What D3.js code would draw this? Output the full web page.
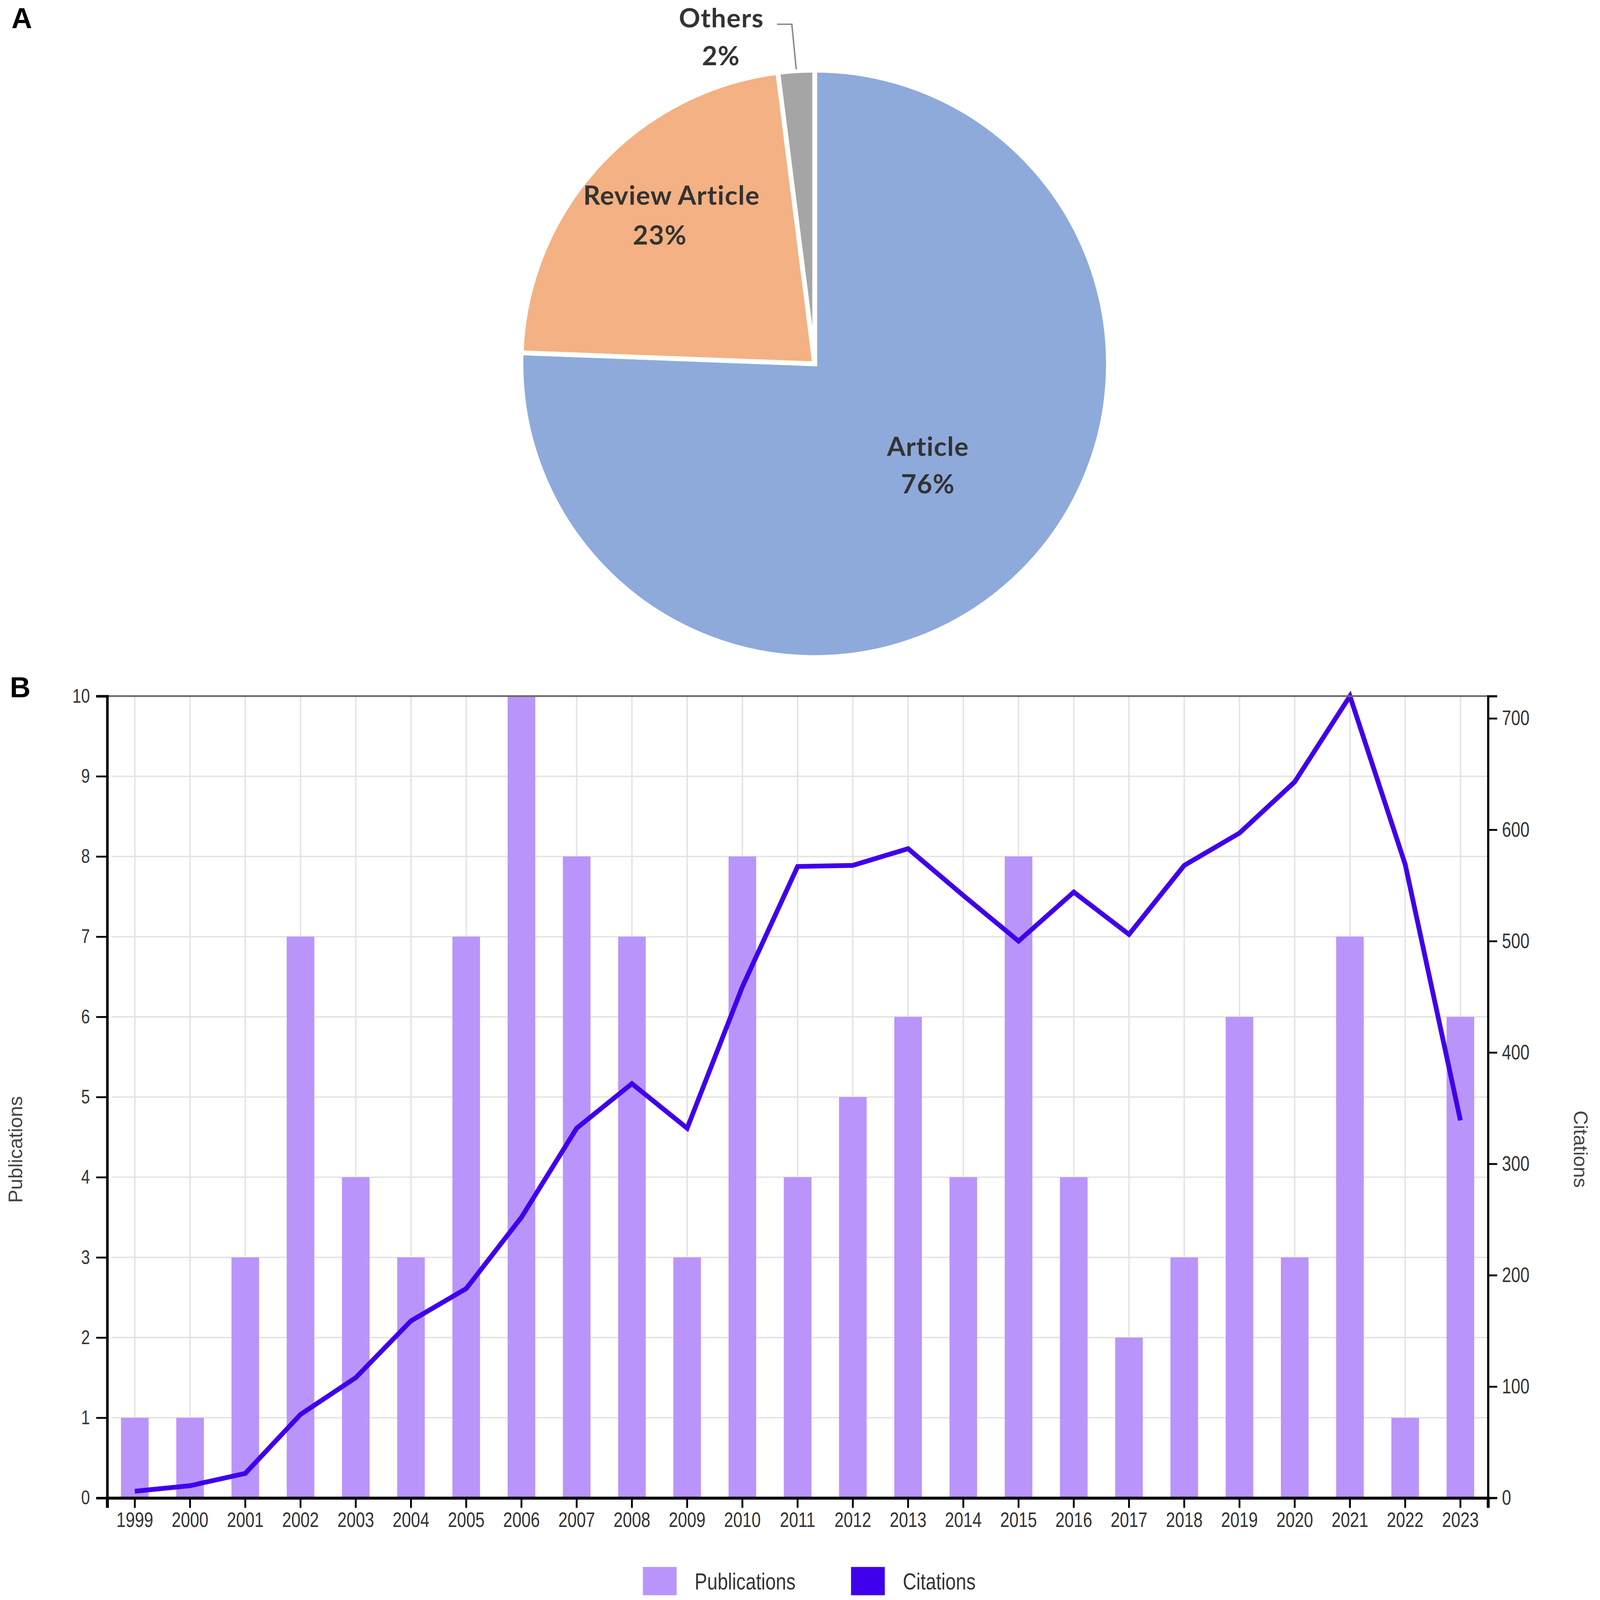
<!DOCTYPE html>
<html>
<head>
<meta charset="utf-8">
<script src="https://cdn.jsdelivr.net/npm/d3@7"></script>
<style>
  html, body { margin: 0; padding: 0; background: #fff; overflow: hidden; }
  svg { display: block; width: 100vw; height: 100vh; }
</style>
</head>
<body>
<div id="chart"></div>
<script>
// panel A: document types (shares)
const docTypes = ['Article', 'Review Article', 'Others']
const docShares = [75.6, 22.4, 2.0]
const docLabels = ['76%', '23%', '2%']

// panel B: publications and citations per year
const years = ['1999', '2000', '2001', '2002', '2003', '2004', '2005', '2006', '2007', '2008',
  '2009', '2010', '2011', '2012', '2013', '2014', '2015', '2016', '2017', '2018',
  '2019', '2020', '2021', '2022', '2023']
const publications = [1, 1, 3, 7, 4, 3, 7, 10, 8, 7, 3, 8, 4, 5, 6, 4, 8, 4, 2, 3, 6, 3, 7, 1, 6]
const citations = [6, 11, 22, 75, 108, 159, 188, 252, 332, 372, 332, 459, 567, 568, 583, 541,
  500, 544, 506, 568, 597, 643, 720, 569, 339]
const pubTicks = [0, 1, 2, 3, 4, 5, 6, 7, 8, 9, 10]
const citeTicks = [0, 100, 200, 300, 400, 500, 600, 700]
const seriesNames = ['Publications', 'Citations']

const width = 4328
const height = 4358
const sans = '"Liberation Sans", Arial, sans-serif'
const pieFont = 'Lato, "Open Sans", sans-serif'
const pieColors = ['#8eaadb', '#f4b183', '#a5a5a5']
const barColor = '#b995fb'
const lineColor = '#4000ec'
const textColor = '#333'

// drawn in a 4328x4358 coordinate space, scaled to the window
const svg = d3.select('#chart')
  .append('svg')
  .attr('viewBox', '0 0 ' + width + ' ' + height)
  .attr('preserveAspectRatio', 'xMidYMid meet')

svg.append('rect').attr('width', width).attr('height', height).attr('fill', '#fff')

// panel letters
svg.append('text').attr('x', 16).attr('y', 77).text('A')
  .style('font-family', sans).style('font-weight', 'bold').style('font-size', '78px').attr('fill', '#000')
svg.append('text').attr('x', 12).attr('y', 1899).text('B')
  .style('font-family', sans).style('font-weight', 'bold').style('font-size', '78px').attr('fill', '#000')

// ---------- pie ----------
const cx = 2204
const cy = 991
const radius = 800

const pie = d3.pie().sort(null).value(d => d)
const arcs = pie(docShares)
const arc = d3.arc().innerRadius(0).outerRadius(radius)

const pieG = svg.append('g').attr('transform', 'translate(' + cx + ',' + cy + ')')

pieG.selectAll('path')
  .data(arcs)
  .enter()
  .append('path')
  .attr('d', arc)
  .attr('fill', (d, i) => pieColors[i])
  .attr('stroke', '#fff')
  .attr('stroke-width', 13)
  .attr('stroke-linejoin', 'miter')

function pieText (sel) {
  return sel
    .attr('text-anchor', 'middle')
    .style('font-family', pieFont)
    .style('font-weight', 'bold')
    .style('font-size', '72px')
    .style('letter-spacing', '1.5px')
    .attr('fill', textColor)
}

// inside labels for the two large slices: anchor on a centroid, then nudge each line
const labelRadius = [0.52, 0.72]
const labelNudge = [
  { dx1: 20, dy1: -49, dx2: 20, dy2: 53 },
  { dx1: 35, dy1: -44, dx2: 3, dy2: 64 }
]
arcs.slice(0, 2).forEach((d, i) => {
  const r = radius * labelRadius[i]
  const c = d3.arc().innerRadius(r).outerRadius(r).centroid(d)
  const n = labelNudge[i]
  const t = pieText(pieG.append('text'))
  t.append('tspan').attr('x', c[0] + n.dx1).attr('y', c[1] + n.dy1).text(docTypes[i])
  t.append('tspan').attr('x', c[0] + n.dx2).attr('y', c[1] + n.dy2).text(docLabels[i])
})

// outside label with leader line for the small slice
const small = arcs[2]
const edge = d3.arc().innerRadius(radius).outerRadius(radius).centroid(small)
const elbowY = 66 - cy
pieG.append('path')
  .attr('d', 'M' + edge[0] + ',' + (edge[1] - 4) +
    'L' + (edge[0] - 12) + ',' + elbowY +
    'L' + (edge[0] - 52) + ',' + elbowY)
  .attr('fill', 'none')
  .attr('stroke', '#8c8c8c')
  .attr('stroke-width', 4)
const otherText = pieText(pieG.append('text'))
otherText.append('tspan').attr('x', edge[0] - 204).attr('y', elbowY + 8).text(docTypes[2])
otherText.append('tspan').attr('x', edge[0] - 205).attr('y', elbowY + 112).text(docLabels[2])

// ---------- bar + line chart ----------
const plotLeft = 277
const plotRight = 4038
const plotTop = 1896
const plotBottom = 4080

const x = d3.scaleBand()
  .domain(years)
  .range([plotLeft, plotRight])
  .paddingInner(0.5)
  .paddingOuter(0.25)

const yL = d3.scaleLinear().domain([0, 10]).range([plotBottom, plotTop])
const yR = d3.scaleLinear().domain([0, d3.max(citations)]).range([plotBottom, plotTop])

const center = d => x(d) + x.bandwidth() / 2

// grid
svg.append('g')
  .selectAll('line')
  .data(years)
  .enter()
  .append('line')
  .attr('x1', center).attr('x2', center)
  .attr('y1', plotTop).attr('y2', plotBottom)
  .attr('stroke', '#e4e4e4')
  .attr('stroke-width', 4)

svg.append('g')
  .selectAll('line')
  .data(pubTicks.slice(1, -1))
  .enter()
  .append('line')
  .attr('x1', plotLeft + 12).attr('x2', plotRight)
  .attr('y1', d => yL(d)).attr('y2', d => yL(d))
  .attr('stroke', '#e4e4e4')
  .attr('stroke-width', 4)

// bars
svg.append('g')
  .selectAll('rect')
  .data(years)
  .enter()
  .append('rect')
  .attr('x', d => x(d))
  .attr('width', x.bandwidth())
  .attr('y', (d, i) => yL(publications[i]))
  .attr('height', (d, i) => plotBottom - yL(publications[i]))
  .attr('fill', barColor)

// citations line
const line = d3.line()
  .x((d, i) => center(years[i]))
  .y(d => yR(d))

svg.append('path')
  .datum(citations)
  .attr('d', line)
  .attr('fill', 'none')
  .attr('stroke', lineColor)
  .attr('stroke-width', 13)
  .attr('stroke-linejoin', 'miter')

// top frame line
svg.append('line')
  .attr('x1', plotLeft).attr('x2', plotRight)
  .attr('y1', plotTop).attr('y2', plotTop)
  .attr('stroke', '#6a6a6a')
  .attr('stroke-width', 5)

function styleAxis (g, size, domainWidth) {
  g.select('.domain').attr('stroke', '#000').attr('stroke-width', domainWidth)
  g.selectAll('.tick line').attr('stroke', '#000').attr('stroke-width', 5)
  g.selectAll('.tick text')
    .attr('fill', textColor)
    .style('font-family', sans)
    .style('font-size', size + 'px')
    .attr('transform', 'scale(1,1.25)')
}

const axisL = svg.append('g')
  .attr('transform', 'translate(' + plotLeft + ',0)')
  .call(d3.axisLeft(yL).tickValues(pubTicks).tickSize(30).tickPadding(17))
styleAxis(axisL, 43, 7)

const axisR = svg.append('g')
  .attr('transform', 'translate(' + plotRight + ',0)')
  .call(d3.axisRight(yR).tickValues(citeTicks).tickSize(25).tickPadding(13))
styleAxis(axisR, 45, 6)

const axisB = svg.append('g')
  .attr('transform', 'translate(0,' + plotBottom + ')')
  .call(d3.axisBottom(x).tickSize(27).tickPadding(4))
styleAxis(axisB, 45, 8)

// axis titles
svg.append('text')
  .attr('transform', 'translate(27,3131) rotate(-90)')
  .attr('text-anchor', 'middle')
  .attr('dominant-baseline', 'central')
  .style('font-family', sans)
  .style('font-size', '54px')
  .attr('fill', '#444')
  .text(seriesNames[0])

svg.append('text')
  .attr('transform', 'translate(4290,3130) rotate(90)')
  .attr('text-anchor', 'middle')
  .attr('dominant-baseline', 'central')
  .style('font-family', sans)
  .style('font-size', '54px')
  .attr('fill', '#444')
  .text(seriesNames[1])

// legend
const legendX = [1736, 2303]
const legendColors = [barColor, lineColor]
const legend = svg.append('g')
  .selectAll('g')
  .data(seriesNames)
  .enter()
  .append('g')
  .attr('transform', (d, i) => 'translate(' + legendX[i] + ',4268)')

legend.append('rect')
  .attr('width', 92)
  .attr('height', 77)
  .attr('fill', (d, i) => legendColors[i])

legend.append('g')
  .attr('transform', 'translate(141,39)')
  .append('text')
  .attr('transform', 'scale(1,1.25)')
  .attr('dy', '0.35em')
  .style('font-family', sans)
  .style('font-size', '51px')
  .attr('fill', textColor)
  .text(d => d)
</script>
</body>
</html>
